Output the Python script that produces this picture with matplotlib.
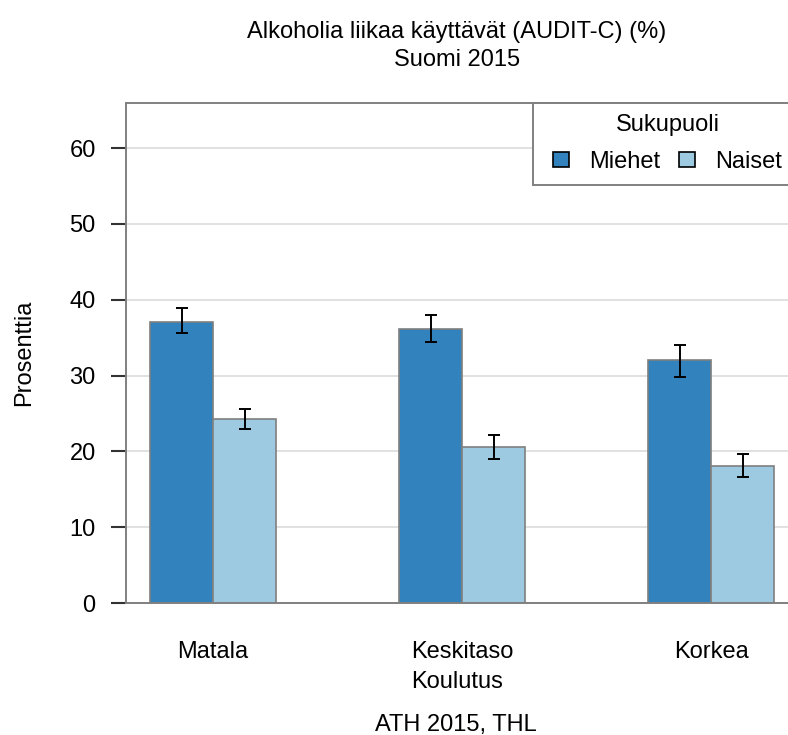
import numpy as np
import matplotlib.pyplot as plt
from matplotlib.patches import Rectangle

plt.rcParams["font.family"] = ["Liberation Sans", "DejaVu Sans"]

groups = ["Matala", "Keskitaso", "Korkea"]
series = ["Miehet", "Naiset"]
values = {
    "Miehet": [37.1, 36.1, 32.0],
    "Naiset": [24.3, 20.6, 18.1],
}
lower = {
    "Miehet": [35.6, 34.4, 29.8],
    "Naiset": [23.0, 19.0, 16.6],
}
upper = {
    "Miehet": [38.9, 38.0, 34.0],
    "Naiset": [25.6, 22.1, 19.7],
}
colors = {"Miehet": "#3182bd", "Naiset": "#9ecae1"}
yticks = [0, 10, 20, 30, 40, 50, 60]

FS = 17
W, H = 788, 735
fig = plt.figure(figsize=(W / 100, H / 100), dpi=100)
ax = fig.add_axes([126 / W, 1 - 603 / H, 1 - 126 / W, (603 - 102.7) / H])
ax_w, ax_h = W - 126, 603 - 102.7

x = np.arange(1, len(groups) + 1)
width = 63 / 249
handles = []
for i, s in enumerate(series):
    pos = x + (i - 0.5) * width
    v = np.array(values[s])
    err = [v - np.array(lower[s]), np.array(upper[s]) - v]
    h = ax.bar(pos, v, width=width, color=colors[s], edgecolor="#7f7f7f",
               linewidth=1.2, zorder=2, label=s)
    ax.errorbar(pos, v, yerr=err, fmt="none", ecolor="black",
                elinewidth=1.4, capsize=4, capthick=1.4, zorder=3)
    handles.append(h)

ax.set_xlim(1 - 87 / 249, 3 + 77 / 249)
ax.set_ylim(0, 66.0)
ax.set_yticks(yticks)
ax.set_xticks(x)
ax.set_xticklabels(groups)
ax.yaxis.grid(True, color="#dcdcdc", linewidth=1.2, zorder=0)
ax.set_axisbelow(True)

for side in ["left", "top", "bottom"]:
    ax.spines[side].set_color("#808080")
    ax.spines[side].set_linewidth(1.4)
ax.spines["right"].set_visible(False)

ax.tick_params(axis="y", length=10.8, width=1.5, color="#333333",
               labelsize=FS, labelcolor="black", pad=11)
ax.tick_params(axis="x", length=0, labelsize=FS, labelcolor="black", pad=27.5)

ax.set_ylabel("Prosenttia", fontsize=FS, color="black")
ax.yaxis.set_label_coords((35 - 126) / ax_w, 0.5)
ax.set_xlabel("Koulutus", fontsize=FS, color="black")
ax.xaxis.set_label_coords(0.5, (603 - 671) / ax_h)

fig.text(457 / W, 1 - 38 / H, "Alkoholia liikaa käyttävät (AUDIT-C) (%)",
         ha="center", va="baseline", fontsize=FS, color="black")
fig.text(457 / W, 1 - 66.5 / H, "Suomi 2015",
         ha="center", va="baseline", fontsize=FS, color="black")
fig.text(456 / W, 1 - 730.5 / H, "ATH 2015, THL",
         ha="center", va="baseline", fontsize=FS, color="black")

# legend box runs past the right edge of the figure
box = Rectangle(((533 - 126) / ax_w, (603 - 185) / ax_h), 0.5, (185 - 102.7) / ax_h,
                transform=ax.transAxes, facecolor="white", edgecolor="#808080",
                linewidth=1.4, clip_on=False, zorder=4)
ax.add_patch(box)

leg = ax.legend(handles=handles, labels=series, title="Sukupuoli", ncol=2,
                loc="upper left",
                bbox_to_anchor=((553 - 126) / ax_w, (603 - 114.5) / ax_h),
                borderaxespad=0, frameon=False, fontsize=FS,
                title_fontsize=FS, handlelength=0.68, handleheight=0.62,
                columnspacing=0.8, handletextpad=0.85, borderpad=0,
                labelspacing=0.6)
leg.set_zorder(5)
for p in leg.get_patches():
    p.set_edgecolor("black")
    p.set_linewidth(1.2)

fig.savefig("out.png", dpi=100)
